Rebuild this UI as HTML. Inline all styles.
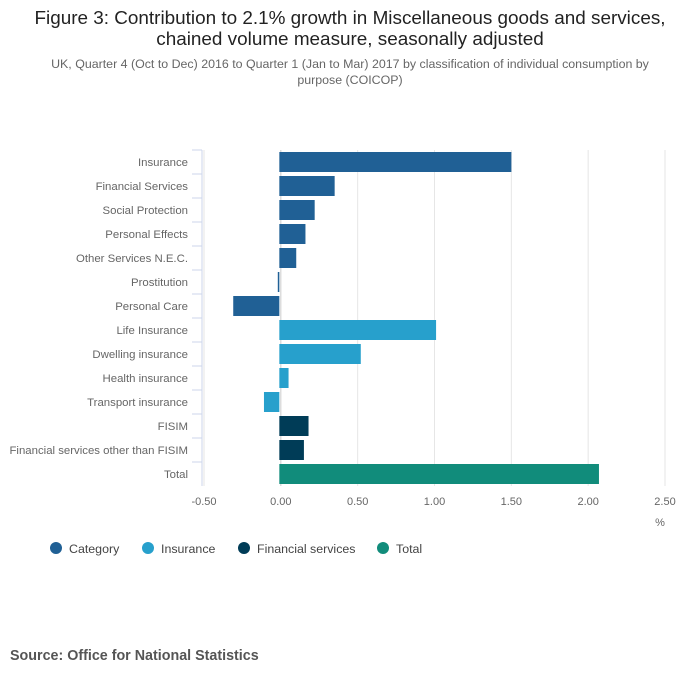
<!DOCTYPE html>
<html><head><meta charset="utf-8"><style>
body{margin:0;background:#fff;font-family:"Liberation Sans",sans-serif;}
</style></head><body>
<svg width="700" height="682" xmlns="http://www.w3.org/2000/svg" font-family="Liberation Sans, sans-serif">
<text x="350" y="24" text-anchor="middle" font-size="18.9" fill="#222">Figure 3: Contribution to 2.1% growth in Miscellaneous goods and services,</text>
<text x="350" y="45" text-anchor="middle" font-size="18.9" fill="#222">chained volume measure, seasonally adjusted</text>
<text x="350" y="68" text-anchor="middle" font-size="12.4" fill="#666">UK, Quarter 4 (Oct to Dec) 2016 to Quarter 1 (Jan to Mar) 2017 by classification of individual consumption by</text>
<text x="350" y="84" text-anchor="middle" font-size="12.4" fill="#666">purpose (COICOP)</text>
<g id="grid"></g><g id="bars"></g><g id="yaxis"></g><g id="xaxis"></g>
<text x="660" y="526" text-anchor="middle" font-size="11" fill="#666">%</text>
<g id="legend"></g>
<text x="10" y="660" font-size="14.3" font-weight="bold" fill="#555">Source: Office for National Statistics</text>
</svg>
<script>
const categories=["Insurance","Financial Services","Social Protection","Personal Effects","Other Services N.E.C.","Prostitution","Personal Care","Life Insurance","Dwelling insurance","Health insurance","Transport insurance","FISIM","Financial services other than FISIM","Total"];
const values=[1.51,0.36,0.23,0.17,0.11,-0.01,-0.30,1.02,0.53,0.06,-0.10,0.19,0.16,2.08];
const groups=["cat","cat","cat","cat","cat","cat","cat","ins","ins","ins","ins","fin","fin","tot"];
const xTicks=[-0.5,0,0.5,1,1.5,2,2.5];
const xTickLabels=["-0.50","0.00","0.50","1.00","1.50","2.00","2.50"];
const legendLabels=["Category","Insurance","Financial services","Total"];
const legendKeys=["cat","ins","fin","tot"];
const colors={cat:"#206095",ins:"#27a0cc",fin:"#003c57",tot:"#118c7b"};
const NS="http://www.w3.org/2000/svg";
const x=v=>204+(v+0.5)*(461/3);
const top0=150,band=24;
function mk(t,a,p){const e=document.createElementNS(NS,t);for(const k in a)e.setAttribute(k,a[k]);document.getElementById(p).appendChild(e);return e;}
xTicks.forEach((t,i)=>{
 const g=mk("line",{x1:x(t),x2:x(t),y1:top0,y2:top0+band*categories.length,stroke:t===0?"#ccc":"#e6e6e6","stroke-width":1},"grid");
 
 
 const l=mk("text",{x:x(t),y:505,"text-anchor":"middle","font-size":11,fill:"#666"},"xaxis");
 l.textContent=xTickLabels[i];
 
 
});
const ax=mk("line",{x1:202,x2:202,y1:top0,y2:top0+band*categories.length,stroke:"#ccd6eb"},"yaxis");


categories.forEach((c,i)=>{
 const yb=top0+i*band;
 const tk=mk("line",{x1:192,x2:202,y1:yb,y2:yb,stroke:"#ccd6eb"},"yaxis");
 
 
 const t=mk("text",{x:188,y:yb+16,"text-anchor":"end","font-size":11.4,fill:"#666"},"yaxis");
 t.textContent=c;
 
 
 const v=values[i];
 const r=mk("rect",{x:Math.min(x(0),x(v))-1.5,y:yb+2,width:Math.max(1,Math.abs(x(v)-x(0))),height:20,fill:colors[groups[i]]},"bars");
 
 
});
const lx=[56,148,244,383];
legendLabels.forEach((l,i)=>{
 const c=mk("circle",{cx:lx[i],cy:548,r:6,fill:colors[legendKeys[i]]},"legend");
 
 
 const t=mk("text",{x:lx[i]+13,y:553,"font-size":12.4,fill:"#444"},"legend");
 t.textContent=l;
 
 
});
</script>
</body></html>
